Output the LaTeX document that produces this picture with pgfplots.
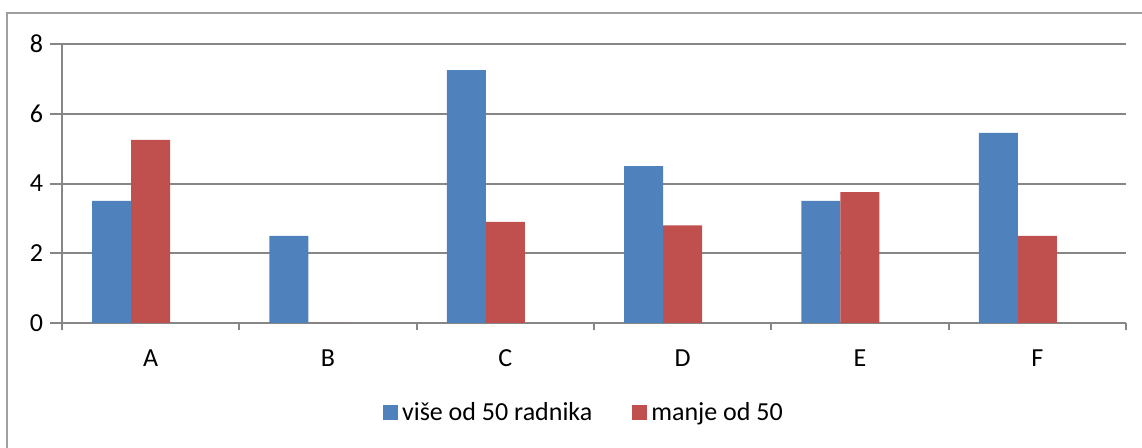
\documentclass[border=0pt]{standalone}
\usepackage{fontspec}
\setmainfont{Carlito}
\usepackage{pgfplots}
\pgfplotsset{compat=1.18}
\definecolor{barblue}{HTML}{4F81BD}
\definecolor{barred}{HTML}{C0504D}
\definecolor{gridgray}{RGB}{134,134,134}
\pgfplotsset{sqlegend/.style={legend image code/.code={\fill[##1] (0pt,-3.75pt) rectangle (7.5pt,3.75pt);}}}
\begin{document}
\begin{tikzpicture}[x=1pt,y=1pt]
\useasboundingbox (0,0) rectangle (571,224);
\draw[gray!75, line width=1pt] (3.5,-20) rectangle (590,217.5);
\begin{axis}[
  at={(31pt,62.5pt)}, anchor=south west,
  scale only axis, width=532pt, height=139.5pt,
  ymin=0, ymax=8, ytick={0,2,...,8},
  xmin=-0.5, xmax=5.5,
  xtick={0,...,5}, xticklabels={A,B,C,D,E,F},
  minor xtick={-0.5,0.5,...,5.5},
  ybar, bar width=19.5pt,
  axis x line*=bottom, axis y line*=left,
  axis line style={gridgray, line width=1pt, -},
  ymajorgrids, major grid style={gridgray, line width=1pt},
  tick align=outside,
  major tick length=6pt, minor tick length=3.5pt,
  major x tick style={draw=none},
  minor x tick style={gridgray, line width=1pt},
  major y tick style={gridgray, line width=1pt},
  tick label style={font=\fontsize{13}{15}\selectfont},
  xticklabel style={yshift=-4pt},
  /pgf/number format/assume math mode=true,
  legend style={at={(0.4915,-0.3226)}, anchor=center, draw=none,
    legend columns=2, font=\fontsize{13}{15}\selectfont,
    /tikz/every even column/.append style={column sep=18pt}},
]
\addplot[fill=barblue, draw=none, bar shift=-19.5pt, sqlegend] coordinates {(0,3.5)(1,2.5)(2,7.25)(3,4.5)(4,3.5)(5,5.45)};
\addlegendentry{više od 50 radnika}
\addplot[fill=barred, draw=none, bar shift=0pt, sqlegend] coordinates {(0,5.25)(1,0)(2,2.9)(3,2.8)(4,3.75)(5,2.5)};
\addlegendentry{manje od 50}
\end{axis}
\end{tikzpicture}
\end{document}
